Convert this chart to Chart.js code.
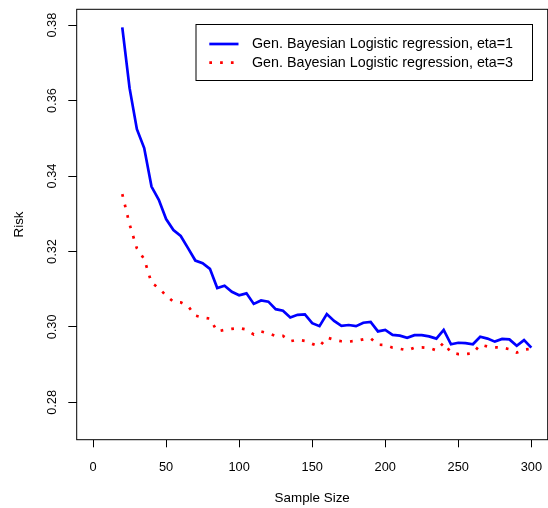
<!DOCTYPE html>
<html>
<head>
<meta charset="utf-8">
<script src="https://cdn.jsdelivr.net/npm/chart.js@4.4.1/dist/chart.umd.min.js"></script>
<style>
  html, body { margin: 0; padding: 0; background: #fff; }
  #wrap { position: relative; width: 548px; height: 508px; }
</style>
</head>
<body>
<div id="wrap"><canvas id="riskChart"></canvas></div>
<script>
// sample sizes 20..300 step 5
const sampleSizes = [20, 25, 30, 35, 40, 45, 50, 55, 60, 65, 70, 75, 80, 85, 90, 95,
    100, 105, 110, 115, 120, 125, 130, 135, 140, 145, 150, 155, 160, 165, 170, 175,
    180, 185, 190, 195, 200, 205, 210, 215, 220, 225, 230, 235, 240, 245, 250, 255,
    260, 265, 270, 275, 280, 285, 290, 295, 300];

const riskEta1 = [0.3794, 0.3633, 0.3524, 0.3474, 0.3372, 0.3337, 0.3286, 0.3257,
    0.3241, 0.3209, 0.3176, 0.3169, 0.3154, 0.3103, 0.3109, 0.3093, 0.3084, 0.3089,
    0.3061, 0.3070, 0.3067, 0.3047, 0.3043, 0.3025, 0.3032, 0.3033, 0.3010, 0.3002,
    0.3034, 0.3016, 0.3003, 0.3005, 0.3002, 0.3011, 0.3013, 0.2988, 0.2992, 0.2979,
    0.2977, 0.2971, 0.2978, 0.2978, 0.2975, 0.2969, 0.2992, 0.2954, 0.2958, 0.2957,
    0.2954, 0.2974, 0.2969, 0.2961, 0.2968, 0.2967, 0.2950, 0.2965, 0.2945];

const riskEta3 = [0.3352, 0.3272, 0.3208, 0.3180, 0.3117, 0.3103, 0.3083, 0.3067,
    0.3065, 0.3055, 0.3030, 0.3025, 0.3022, 0.2988, 0.2992, 0.2995, 0.2997, 0.2993,
    0.2980, 0.2988, 0.2983, 0.2976, 0.2976, 0.2962, 0.2966, 0.2963, 0.2955, 0.2948,
    0.2972, 0.2966, 0.2962, 0.2961, 0.2963, 0.2967, 0.2970, 0.2953, 0.2952, 0.2945,
    0.2942, 0.2938, 0.2945, 0.2946, 0.2944, 0.2938, 0.2958, 0.2932, 0.2928, 0.2928,
    0.2930, 0.2953, 0.2948, 0.2946, 0.2945, 0.2941, 0.2932, 0.2940, 0.2942];

const seriesLabels = ['Gen. Bayesian Logistic regression, eta=1',
                      'Gen. Bayesian Logistic regression, eta=3'];
const xTicks = [0, 50, 100, 150, 200, 250, 300];
const yTicks = [0.28, 0.30, 0.32, 0.34, 0.36, 0.38];

const FONT = 'Liberation Sans, Arial, Helvetica, sans-serif';

function toPoints(ys) {
    return sampleSizes.map((x, i) => ({ x: x, y: ys[i] }));
}

// box around plot region + legend drawn like R's
const rBox = {
    id: 'rBox',
    afterDraw(chart) {
        const { ctx, chartArea: a } = chart;
        ctx.save();
        ctx.strokeStyle = '#000';
        ctx.lineWidth = 1;
        ctx.strokeRect(a.left, a.top, a.right - a.left, a.bottom - a.top);

        // legend
        const lx = 196, ly = 24.5, lw = 336.5, lh = 56;
        ctx.fillStyle = '#fff';
        ctx.fillRect(lx, ly, lw, lh);
        ctx.strokeRect(lx, ly, lw, lh);
        const ds = chart.data.datasets;
        const rows = [44, 62.7];
        ds.forEach((d, i) => {
            ctx.beginPath();
            ctx.strokeStyle = d.borderColor;
            ctx.lineWidth = d.borderWidth;
            ctx.setLineDash(d.borderDash || []);
            ctx.moveTo(209.3, rows[i]);
            ctx.lineTo(238.5, rows[i]);
            ctx.stroke();
            ctx.setLineDash([]);
            ctx.fillStyle = '#000';
            ctx.font = '14.3px ' + FONT;
            ctx.textBaseline = 'middle';
            ctx.textAlign = 'left';
            ctx.fillText(d.label, 252, rows[i] + 0.5);
        });
        ctx.restore();
    }
};

const ctx = document.getElementById('riskChart').getContext('2d');
const riskChart = new Chart(ctx, {
    type: 'scatter',
    data: {
        datasets: [{
            label: seriesLabels[0],
            data: toPoints(riskEta1),
            showLine: true,
            borderColor: '#0000FF',
            borderWidth: 2.7,
            pointRadius: 0,
            tension: 0,
            fill: false
        }, {
            label: seriesLabels[1],
            data: toPoints(riskEta3),
            showLine: true,
            borderColor: '#FF0000',
            borderWidth: 2.7,
            borderDash: [2.7, 8.1],
            borderCapStyle: 'butt',
            pointRadius: 0,
            tension: 0,
            fill: false
        }]
    },
    options: {
        responsive: true,
        maintainAspectRatio: false,
        animation: false,
        devicePixelRatio: 1,
        layout: { autoPadding: false, padding: { top: 9.3, right: 0.3, left: 0, bottom: 0 } },
        plugins: {
            legend: { display: false },
            tooltip: { enabled: false }
        },
        scales: {
            x: {
                type: 'linear',
                min: -11.2,
                max: 311.2,
                afterBuildTicks: (s) => { s.ticks = xTicks.map(v => ({ value: v })); },
                afterFit: (s) => {
                    s.height = 68.3;
                    s.paddingLeft = 0;
                    s.paddingRight = 0;
                },
                grid: { display: true, drawOnChartArea: false, drawTicks: true,
                        tickLength: 7.6, color: '#000', lineWidth: 1 },
                border: { display: false },
                ticks: {
                    color: '#000',
                    font: { family: FONT, size: 12.8 },
                    padding: 12,
                    maxRotation: 0,
                    callback: (v) => String(v)
                },
                title: {
                    display: true,
                    text: 'Sample Size',
                    color: '#000',
                    font: { family: FONT, size: 13.4 },
                    padding: { top: 0, bottom: 2 }
                }
            },
            y: {
                type: 'linear',
                min: 0.2701,
                max: 0.3842,
                afterBuildTicks: (s) => { s.ticks = yTicks.map(v => ({ value: v })); },
                afterFit: (s) => {
                    s.width = 76.7;
                    s.paddingTop = 0;
                    s.paddingBottom = 0;
                },
                grid: { display: true, drawOnChartArea: false, drawTicks: true,
                        tickLength: 8.4, color: '#000', lineWidth: 1 },
                border: { display: false },
                ticks: {
                    color: '#000',
                    font: { family: FONT, size: 12.8 },
                    padding: 3,
                    minRotation: 90,
                    maxRotation: 90,
                    crossAlign: 'center',
                    callback: (v) => v.toFixed(2)
                },
                title: {
                    display: true,
                    text: 'Risk',
                    color: '#000',
                    font: { family: FONT, size: 13.4 },
                    padding: { top: 11, bottom: 0 }
                }
            }
        }
    },
    plugins: [rBox]
});
</script>
</body>
</html>
